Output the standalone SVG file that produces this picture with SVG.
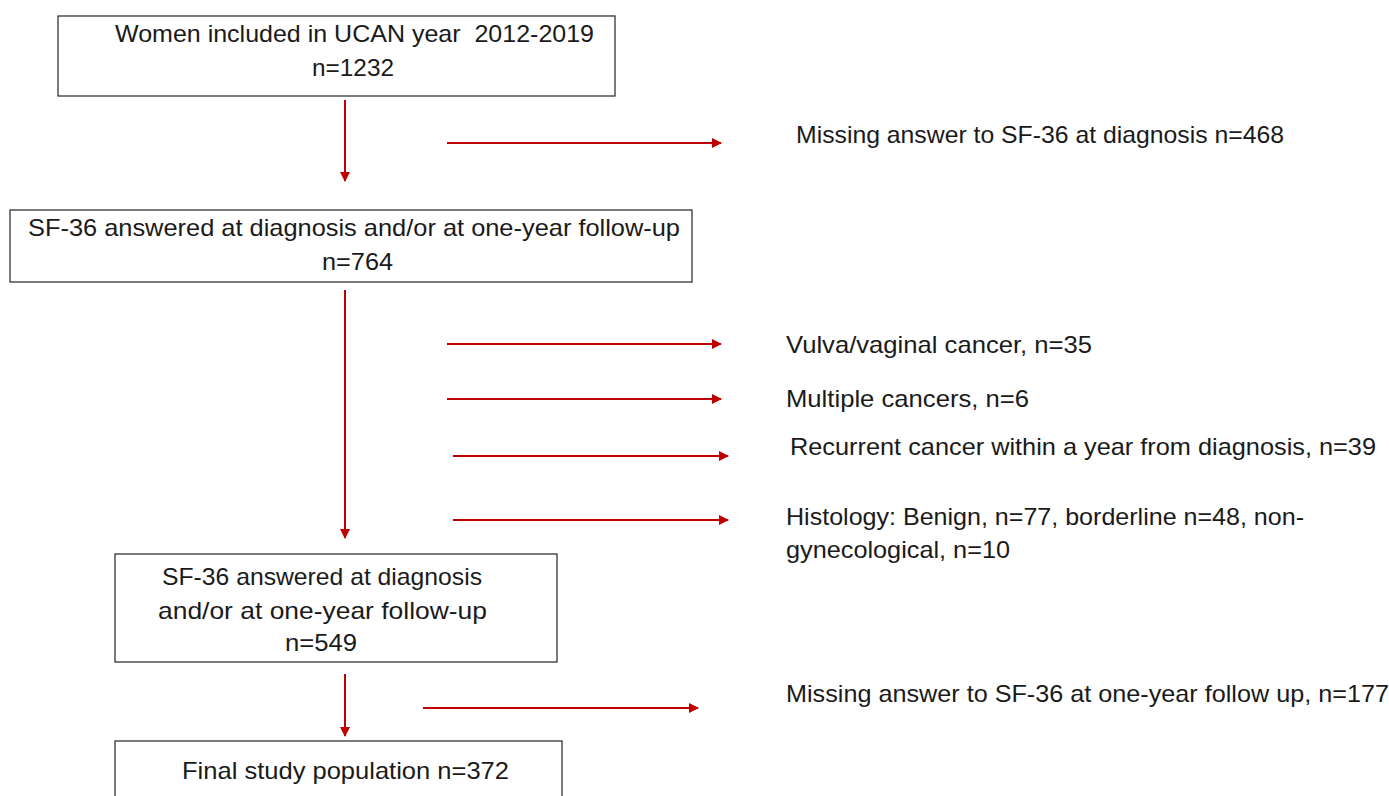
<svg xmlns="http://www.w3.org/2000/svg" width="1389" height="796" viewBox="0 0 1389 796">
<style>
.box{fill:#fff;stroke:#333;stroke-width:1.3}
.t{font-family:"Liberation Sans",Arial,sans-serif;font-size:24px;fill:#1a1a1a;white-space:pre}
.m{text-anchor:middle}
.c{stroke:#C00000;stroke-width:2;fill:none;marker-end:url(#ah)}
</style>
<defs>
<marker id="ah" viewBox="0 0 10 10" refX="9" refY="5" markerWidth="5" markerHeight="5" orient="auto" markerUnits="strokeWidth">
<path d="M0,0 L10,5 L0,10 z" fill="#C00000"/>
</marker>
</defs>
<rect width="1389" height="796" fill="#fff"/>
<g id="connectors">
<line class="c" x1="345" y1="100" x2="345" y2="181"/>
<line class="c" x1="345" y1="290" x2="345" y2="538"/>
<line class="c" x1="345" y1="674" x2="345" y2="736"/>
<line class="c" x1="447" y1="143" x2="721" y2="143"/>
<line class="c" x1="447" y1="344" x2="721" y2="344"/>
<line class="c" x1="447" y1="399" x2="721" y2="399"/>
<line class="c" x1="453" y1="456" x2="728" y2="456"/>
<line class="c" x1="453" y1="520" x2="728" y2="520"/>
<line class="c" x1="423" y1="708" x2="698" y2="708"/>
</g>
<g id="n1">
<rect class="box" x="58" y="16" width="557" height="80"/>
<text class="t" x="115" y="42" textLength="479" lengthAdjust="spacingAndGlyphs">Women included in UCAN year  2012-2019</text>
<text class="t" x="312" y="76" textLength="82" lengthAdjust="spacingAndGlyphs">n=1232</text>
</g>
<g id="n2">
<rect class="box" x="10" y="210" width="682" height="72"/>
<text class="t" x="28" y="236" textLength="652" lengthAdjust="spacingAndGlyphs">SF-36 answered at diagnosis and/or at one-year follow-up</text>
<text class="t" x="322" y="270" textLength="71" lengthAdjust="spacingAndGlyphs">n=764</text>
</g>
<g id="n3">
<rect class="box" x="115" y="554" width="442" height="108"/>
<text class="t" x="162" y="585" textLength="320" lengthAdjust="spacingAndGlyphs">SF-36 answered at diagnosis</text>
<text class="t" x="158" y="619" textLength="329" lengthAdjust="spacingAndGlyphs">and/or at one-year follow-up</text>
<text class="t" x="285" y="651" textLength="72" lengthAdjust="spacingAndGlyphs">n=549</text>
</g>
<g id="n4">
<rect class="box" x="115" y="741" width="447" height="70"/>
<text class="t" x="182" y="779" textLength="327" lengthAdjust="spacingAndGlyphs">Final study population n=372</text>
</g>
<g id="e1"><text class="t" x="796" y="143" textLength="488" lengthAdjust="spacingAndGlyphs">Missing answer to SF-36 at diagnosis n=468</text></g>
<g id="e2"><text class="t" x="786" y="353" textLength="306" lengthAdjust="spacingAndGlyphs">Vulva/vaginal cancer, n=35</text></g>
<g id="e3"><text class="t" x="786" y="407" textLength="243" lengthAdjust="spacingAndGlyphs">Multiple cancers, n=6</text></g>
<g id="e4"><text class="t" x="790" y="455" textLength="586" lengthAdjust="spacingAndGlyphs">Recurrent cancer within a year from diagnosis, n=39</text></g>
<g id="e5">
<text class="t" x="786" y="525" textLength="518" lengthAdjust="spacingAndGlyphs">Histology: Benign, n=77, borderline n=48, non-</text>
<text class="t" x="786" y="558" textLength="224" lengthAdjust="spacingAndGlyphs">gynecological, n=10</text>
</g>
<g id="e6"><text class="t" x="786" y="702" textLength="603" lengthAdjust="spacingAndGlyphs">Missing answer to SF-36 at one-year follow up, n=177</text></g>
</svg>
